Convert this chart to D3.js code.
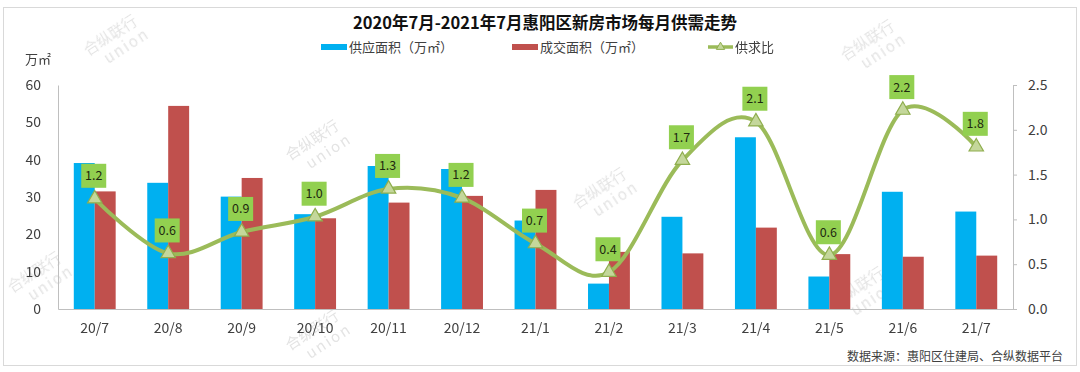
<!DOCTYPE html>
<html>
<head>
<meta charset="utf-8">
<script src="https://cdn.jsdelivr.net/npm/d3@7/dist/d3.min.js"></script>
<style>
  body { margin: 0; background: #fff; }
  svg { display: block; font-family: "Noto Sans CJK SC", "Noto Sans", sans-serif; }
</style>
</head>
<body>
<div id="chart"></div>
<script>
const months = ['20/7','20/8','20/9','20/10','20/11','20/12','21/1','21/2','21/3','21/4','21/5','21/6','21/7'];
const supply = [39.1, 33.8, 30.1, 25.4, 38.3, 37.5, 23.7, 6.8, 24.7, 46.0, 8.7, 31.4, 26.1];
const deals = [31.5, 54.4, 35.1, 24.3, 28.5, 30.3, 31.9, 15.3, 14.9, 21.8, 14.7, 14.0, 14.3];
const ratio = [1.23, 0.62, 0.86, 1.03, 1.34, 1.24, 0.73, 0.41, 1.66, 2.09, 0.60, 2.22, 1.81];
const leftTicks = [0, 10, 20, 30, 40, 50, 60];
const rightTicks = [0, 0.5, 1.0, 1.5, 2.0, 2.5];
const seriesNames = ['供应面积（万㎡）', '成交面积（万㎡）', '供求比'];
const title = '2020年7月-2021年7月惠阳区新房市场每月供需走势';
const source = '数据来源：惠阳区住建局、合纵数据平台';
const marks = [[118, 40], [875, 45], [320, 145], [607, 193], [320, 335], [42, 277], [865, 292]];

const width = 1080, height = 372;
const blue = '#00b0f0', red = '#c0504d', green = '#9bbb59', labelGreen = '#92d050';
const textCol = '#404040', axisCol = '#bfbfbf';

const svg = d3.select('#chart').append('svg')
  .attr('width', width)
  .attr('height', height);

// frame
svg.append('rect')
  .attr('x', 3.5).attr('y', 7.5)
  .attr('width', 1073).attr('height', 358)
  .attr('fill', '#fff')
  .attr('stroke', '#d9d9d9');

// watermarks
const wm = svg.append('g').attr('fill', '#c8c8c8').attr('opacity', 0.5);
marks.forEach(function (p) {
  const g = wm.append('g').attr('transform', 'translate(' + p[0] + ',' + p[1] + ') rotate(-33)');
  g.append('text').attr('x', -4).attr('y', -3).attr('text-anchor', 'middle')
    .attr('font-size', 15).text('合纵联行');
  g.append('text').attr('x', 4).attr('y', 15).attr('text-anchor', 'middle')
    .attr('font-size', 15).attr('letter-spacing', 2).text('union');
});

const x = d3.scaleBand().domain(months).range([58, 1013])
  .paddingInner(0.43).paddingOuter(0.215);
const xs = d3.scaleBand().domain(['supply', 'deals']).range([0, x.bandwidth()]);
const yL = d3.scaleLinear().domain([0, 60]).range([309, 85]);
const yR = d3.scaleLinear().domain([0, 2.5]).range([309, 85]);

// title
svg.append('text')
  .attr('x', 545).attr('y', 29)
  .attr('text-anchor', 'middle')
  .attr('font-size', 16.5).attr('font-weight', 'bold')
  .attr('fill', '#111')
  .text(title);

// legend
const lg = svg.append('g').attr('font-size', 13).attr('fill', textCol);
lg.append('rect').attr('x', 321).attr('y', 44).attr('width', 26).attr('height', 6).attr('fill', blue);
lg.append('text').attr('x', 349).attr('y', 52).text(seriesNames[0]);
lg.append('rect').attr('x', 512).attr('y', 44).attr('width', 26).attr('height', 6).attr('fill', red);
lg.append('text').attr('x', 540).attr('y', 52).text(seriesNames[1]);
lg.append('line').attr('x1', 708).attr('x2', 733).attr('y1', 47).attr('y2', 47)
  .attr('stroke', green).attr('stroke-width', 3.5);
lg.append('path').attr('d', d3.symbol(d3.symbolTriangle, 30)())
  .attr('transform', 'translate(720.5,47)')
  .attr('fill', '#c4d79b').attr('stroke', '#8fae4e');
lg.append('text').attr('x', 735).attr('y', 52).text(seriesNames[2]);

// unit
svg.append('text').attr('x', 25).attr('y', 64)
  .attr('font-size', 13).attr('fill', textCol).text('万㎡');

// left axis
const axL = svg.append('g').attr('transform', 'translate(58,0)')
  .call(d3.axisLeft(yL).tickValues(leftTicks).tickSize(0).tickPadding(17));
axL.select('.domain').attr('stroke', axisCol);
axL.selectAll('text').attr('font-size', 14).attr('fill', textCol)
  .attr('font-family', '"Noto Sans CJK SC", sans-serif');

// right axis
const axR = svg.append('g').attr('transform', 'translate(1013,0)')
  .call(d3.axisRight(yR).tickValues(rightTicks).tickFormat(d3.format('.1f')).tickSize(4).tickPadding(11));
axR.select('.domain').attr('stroke', axisCol);
axR.selectAll('line').attr('stroke', axisCol);
axR.selectAll('text').attr('font-size', 14).attr('fill', textCol)
  .attr('font-family', '"Noto Sans CJK SC", sans-serif');

// bars
const groups = svg.append('g').selectAll('g')
  .data(months)
  .join('g')
  .attr('transform', function (d) { return 'translate(' + x(d) + ',0)'; });

groups.append('rect')
  .attr('x', xs('supply'))
  .attr('width', xs.bandwidth())
  .attr('y', function (d, i) { return yL(supply[i]); })
  .attr('height', function (d, i) { return yL(0) - yL(supply[i]); })
  .attr('fill', blue);

groups.append('rect')
  .attr('x', xs('deals'))
  .attr('width', xs.bandwidth())
  .attr('y', function (d, i) { return yL(deals[i]); })
  .attr('height', function (d, i) { return yL(0) - yL(deals[i]); })
  .attr('fill', red);

// bottom axis
const axB = svg.append('g').attr('transform', 'translate(0,309)')
  .call(d3.axisBottom(x).tickSize(0).tickPadding(14));
axB.select('.domain').attr('stroke', axisCol);
axB.selectAll('text').attr('font-size', 14).attr('fill', textCol)
  .attr('font-family', '"Noto Sans CJK SC", sans-serif');

// ratio line
const cx = function (i) { return x(months[i]) + x.bandwidth() / 2; };
const line = d3.line()
  .x(function (d, i) { return cx(i); })
  .y(function (d) { return yR(d); })
  .curve(d3.curveCardinal.tension(0));

svg.append('path')
  .datum(ratio)
  .attr('d', line)
  .attr('fill', 'none')
  .attr('stroke', green)
  .attr('stroke-width', 4);

svg.append('g').selectAll('path')
  .data(ratio)
  .join('path')
  .attr('d', d3.symbol(d3.symbolTriangle, 90)())
  .attr('transform', function (d, i) { return 'translate(' + cx(i) + ',' + yR(d) + ')'; })
  .attr('fill', '#c4d79b')
  .attr('stroke', '#8fae4e')
  .attr('stroke-width', 1.2);

// value labels
const lbl = svg.append('g').selectAll('g')
  .data(ratio)
  .join('g')
  .attr('transform', function (d, i) { return 'translate(' + (cx(i) - 1) + ',' + (yR(d) - 23) + ')'; });
lbl.append('rect')
  .attr('x', -12.5).attr('y', -12)
  .attr('width', 25).attr('height', 24)
  .attr('fill', labelGreen);
lbl.append('text')
  .attr('text-anchor', 'middle')
  .attr('y', 4.5)
  .attr('font-size', 12.5)
  .attr('fill', '#1f2a10')
  .text(function (d) { return d3.format('.1f')(d); });

// source
svg.append('text')
  .attr('x', 1063).attr('y', 361)
  .attr('text-anchor', 'end')
  .attr('font-size', 12)
  .attr('fill', textCol)
  .text(source);
</script>
</body>
</html>
